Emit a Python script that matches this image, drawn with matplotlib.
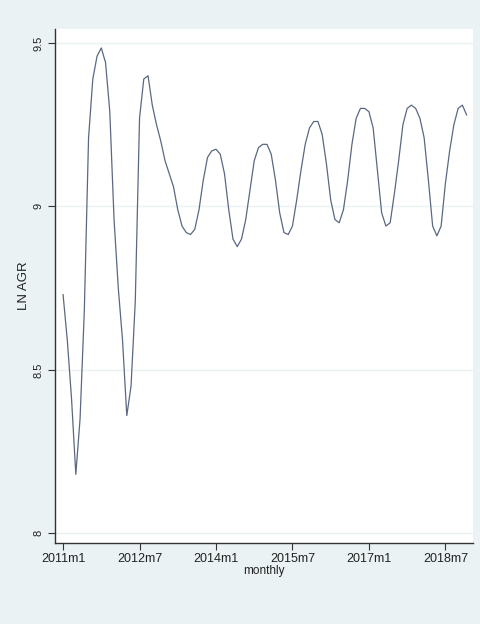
import matplotlib

matplotlib.use("Agg")
import matplotlib.pyplot as plt
import numpy as np

# monthly series, 2011m1 .. 2018m12
months = np.arange(96)
ln_agr = [
    8.73, 8.59, 8.41, 8.18, 8.35, 8.68, 9.21, 9.39, 9.46, 9.485, 9.44, 9.29,
    8.96, 8.75, 8.59, 8.36, 8.45, 8.71, 9.27, 9.39, 9.40, 9.31, 9.25, 9.20,
    9.14, 9.10, 9.06, 8.99, 8.94, 8.92, 8.914, 8.93, 8.99, 9.08, 9.15, 9.17,
    9.175, 9.16, 9.10, 8.99, 8.90, 8.877, 8.90, 8.96, 9.05, 9.14, 9.18, 9.19,
    9.19, 9.16, 9.08, 8.98, 8.92, 8.914, 8.94, 9.02, 9.11, 9.19, 9.24, 9.26,
    9.26, 9.22, 9.13, 9.02, 8.96, 8.95, 8.99, 9.08, 9.19, 9.27, 9.30, 9.30,
    9.29, 9.24, 9.11, 8.98, 8.94, 8.95, 9.04, 9.14, 9.25, 9.30, 9.31, 9.30,
    9.27, 9.21, 9.08, 8.94, 8.91, 8.94, 9.07, 9.17, 9.25, 9.30, 9.31, 9.28,
]
xtick_pos = [0, 18, 36, 54, 72, 90]
xtick_labels = ["2011m1", "2012m7", "2014m1", "2015m7", "2017m1", "2018m7"]
ytick_pos = [8, 8.5, 9, 9.5]
ytick_labels = ["8", "8.5", "9", "9.5"]

plt.rcParams["font.family"] = ["Liberation Sans", "DejaVu Sans"]
bg = "#eaf2f3"

fig = plt.figure(figsize=(4.8, 6.24), dpi=100, facecolor=bg)
ax = fig.add_axes([55 / 480, 1 - 543 / 624, 418 / 480, 514 / 624])
ax.set_facecolor("white")

ax.plot(months, ln_agr, "-", color="#5a6882", lw=0.9)

ax.set_xlim(-1.9, 96.5)
ax.set_ylim(7.97, 9.543)
ax.set_xticks(xtick_pos)
ax.set_xticklabels(xtick_labels, fontsize=9, color="#222222")
ax.set_yticks(ytick_pos)
ax.set_yticklabels(ytick_labels, fontsize=8, rotation=90, va="center",
                   color="#222222")
ax.tick_params(direction="out", length=5, width=0.8, color="#333333")
ax.tick_params(axis="x", pad=2)
ax.grid(True, axis="y", color=bg, lw=1.0)
ax.set_axisbelow(True)

for side in ("top", "right"):
    ax.spines[side].set_visible(False)
for side in ("left", "bottom"):
    ax.spines[side].set_color("#333333")
    ax.spines[side].set_linewidth(1.0)

ax.set_ylabel("LN AGR", fontsize=9.5, color="#222222", labelpad=2)
ax.set_xlabel("monthly", fontsize=8.5, color="#222222", labelpad=0)

fig.savefig("out.png", dpi=100, facecolor=bg)
plt.close(fig)
